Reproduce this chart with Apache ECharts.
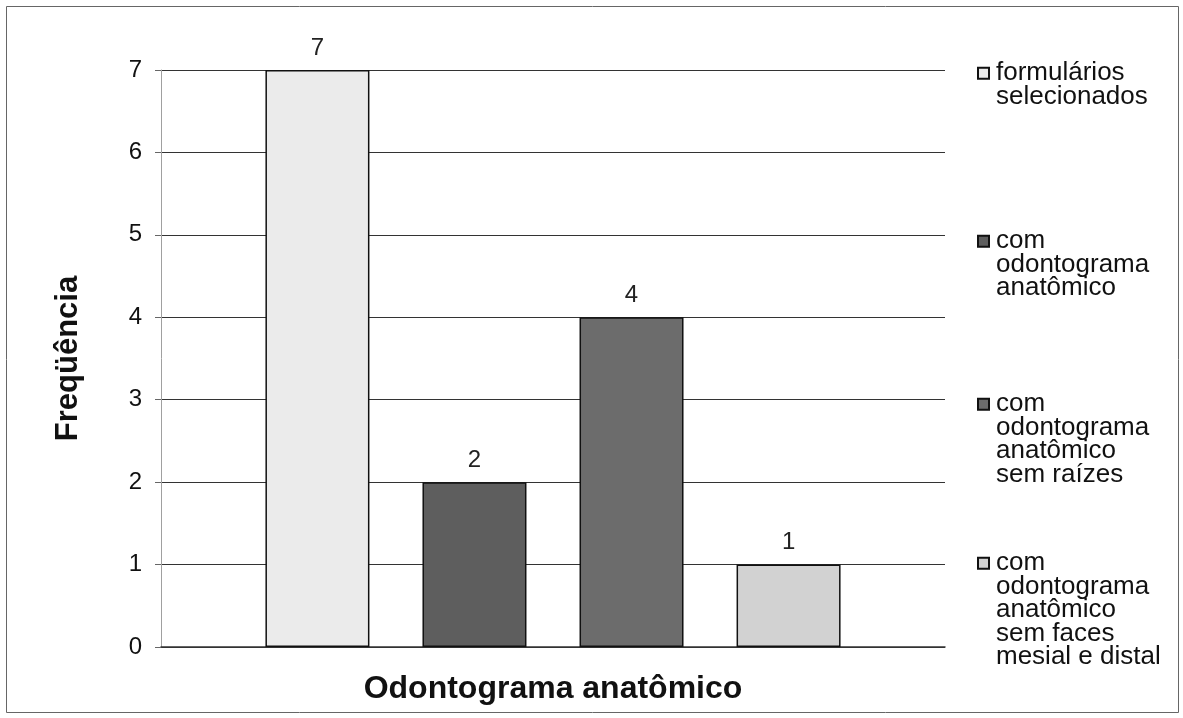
<!DOCTYPE html>
<html>
<head>
<meta charset="utf-8">
<title>Odontograma anatômico</title>
<script src="https://cdn.jsdelivr.net/npm/echarts@6/dist/echarts.min.js"></script>
<style>
  html, body { margin: 0; padding: 0; background: #ffffff; }
  #chart { width: 1183px; height: 718px; }
</style>
</head>
<body>
<div id="chart"></div>
<script>
// Frequency of each form type
const categories = ['Odontograma anatômico'];
const seriesNames = [
  'formulários\nselecionados',
  'com\nodontograma\nanatômico',
  'com\nodontograma\nanatômico\nsem raízes',
  'com\nodontograma\nanatômico\nsem faces\nmesial e distal'
];
const seriesValues = [7, 2, 4, 1];
const seriesColors = ['#ebebeb', '#5e5e5e', '#6c6c6c', '#d2d2d2'];
const yTicks = [0, 1, 2, 3, 4, 5, 6, 7];

const FONT = '"Liberation Sans", Arial, sans-serif';
const LINE_H = 23.5;
// vertical centre of the first text line of each legend entry
const legendFirstLine = [72, 240, 403, 562];

// Legend swatch: a small square near the top of a tall, otherwise empty box,
// so it sits beside the first line of a multi-line legend entry.
function swatchPath(lines) {
  const h = lines * LINE_H;
  const y0 = LINE_H / 2 - 5.5;
  const y1 = y0 + 11;
  return 'path://M0,0 L0.001,0 M0,' + h + ' L0.001,' + h +
         ' M0,' + y0 + ' L11,' + y0 + ' L11,' + y1 + ' L0,' + y1 + ' Z';
}

const chart = echarts.init(document.getElementById('chart'), null, { renderer: 'canvas' });

const series = seriesNames.map((name, i) => ({
  name: name,
  type: 'bar',
  data: [seriesValues[i]],
  barWidth: 104,
  barGap: '51%',
  itemStyle: { color: seriesColors[i], borderColor: '#111', borderWidth: 1.5 },
  label: {
    show: true,
    position: 'top',
    distance: 10,
    fontFamily: FONT,
    fontSize: 24,
    color: '#222'
  }
}));

const legends = seriesNames.map((name, i) => {
  const lines = name.split('\n').length;
  return {
    data: [{ name: name, icon: swatchPath(lines) }],
    orient: 'vertical',
    left: 977,
    top: legendFirstLine[i] - LINE_H / 2,
    padding: 0,
    itemWidth: 11,
    itemHeight: lines * LINE_H,
    selectedMode: false,
    textStyle: {
      fontFamily: FONT,
      fontSize: 26,
      lineHeight: LINE_H,
      color: '#111',
      padding: [0, 0, 0, 2]
    }
  };
});

chart.setOption({
  animation: false,
  backgroundColor: '#ffffff',
  grid: { left: 161, right: 238, top: 70, bottom: 71 },
  legend: legends,
  xAxis: {
    type: 'category',
    data: categories,
    name: 'Odontograma anatômico',
    nameLocation: 'middle',
    nameGap: 26,
    nameTextStyle: { fontFamily: FONT, fontSize: 32, fontWeight: 'bold', color: '#111' },
    axisLine: { show: true, lineStyle: { color: '#333', width: 1.5 } },
    axisTick: { show: false },
    axisLabel: { show: false }
  },
  yAxis: {
    type: 'value',
    min: yTicks[0],
    max: yTicks[yTicks.length - 1],
    interval: 1,
    name: 'Freqüência',
    nameLocation: 'middle',
    nameRotate: 90,
    nameGap: 77,
    nameTextStyle: { fontFamily: FONT, fontSize: 31, fontWeight: 'bold', color: '#111' },
    axisLine: { show: true, lineStyle: { color: '#a0a0a0', width: 1 } },
    axisTick: { show: true, length: 6, lineStyle: { color: '#666' } },
    axisLabel: {
      margin: 19,
      fontFamily: FONT,
      fontSize: 24,
      color: '#111',
      formatter: v => (yTicks.indexOf(v) >= 0 ? String(v) : '')
    },
    splitLine: { show: true, lineStyle: { color: '#333', width: 1 } }
  },
  series: series,
  graphic: [{
    type: 'rect',
    shape: { x: 6.5, y: 6.5, width: 1172, height: 706 },
    style: { fill: 'none', stroke: '#666', lineWidth: 1 },
    silent: true
  }]
});
</script>
</body>
</html>
